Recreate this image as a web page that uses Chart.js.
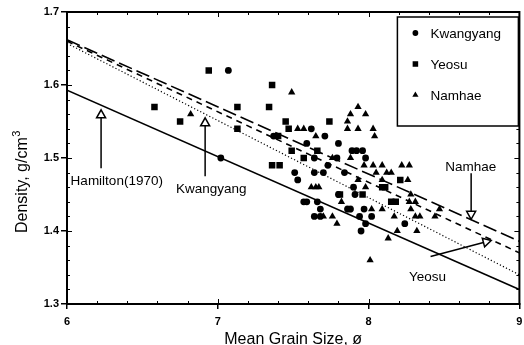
<!DOCTYPE html>
<html>
<head>
<meta charset="utf-8">
<script src="https://cdn.jsdelivr.net/npm/chart.js@4.4.0/dist/chart.umd.min.js"></script>
<style>
  html, body { margin: 0; padding: 0; background: #fff; }
</style>
</head>
<body>
<canvas id="grainChart" width="524" height="345"></canvas>
<script>
// sample points
var kwangyangX = [7.07, 7.02, 7.37, 7.51, 7.53, 7.59, 7.62, 7.64, 7.64, 7.57, 7.59, 7.64, 7.68, 7.68, 7.66, 7.71, 7.70, 7.73, 7.80, 7.79, 7.84, 7.80, 7.86, 7.88, 7.90, 7.89, 7.92, 7.96, 7.98, 7.91, 7.94, 7.95, 7.97, 7.98, 8.02, 8.24]
var kwangyangY = [1.62, 1.50, 1.53, 1.48, 1.47, 1.52, 1.54, 1.50, 1.48, 1.44, 1.44, 1.42, 1.42, 1.43, 1.44, 1.53, 1.48, 1.49, 1.52, 1.50, 1.48, 1.45, 1.43, 1.43, 1.46, 1.51, 1.51, 1.51, 1.50, 1.45, 1.42, 1.40, 1.43, 1.41, 1.42, 1.41]

var yeosuX = [6.58, 6.75, 6.94, 7.13, 7.13, 7.36, 7.34, 7.36, 7.41, 7.40, 7.45, 7.47, 7.49, 7.57, 7.74, 7.66, 7.81, 7.96, 8.09, 8.11, 8.15, 8.18, 8.21, 7.87]
var yeosuY = [1.57, 1.55, 1.62, 1.57, 1.54, 1.60, 1.57, 1.49, 1.49, 1.53, 1.55, 1.54, 1.51, 1.50, 1.55, 1.51, 1.45, 1.45, 1.46, 1.46, 1.44, 1.44, 1.47, 1.43]

var namhaeX = [6.82, 7.49, 7.53, 7.57, 7.65, 7.62, 7.65, 7.67, 7.86, 7.88, 7.93, 7.98, 7.86, 7.93, 8.03, 8.04, 7.88, 7.97, 8.03, 8.09, 8.05, 7.93, 7.98, 8.12, 8.15, 8.09, 8.22, 8.27, 8.26, 8.28, 7.82, 7.76, 7.79, 7.70, 7.76, 8.02, 8.09, 8.13, 8.19, 8.17, 8.27, 8.31, 8.28, 8.31, 8.34, 8.32, 8.44, 8.47, 8.01]
var namhaeY = [1.56, 1.59, 1.54, 1.54, 1.53, 1.46, 1.46, 1.46, 1.55, 1.56, 1.57, 1.56, 1.54, 1.54, 1.54, 1.53, 1.50, 1.49, 1.49, 1.49, 1.48, 1.47, 1.46, 1.48, 1.48, 1.47, 1.49, 1.49, 1.47, 1.45, 1.44, 1.50, 1.41, 1.42, 1.42, 1.43, 1.43, 1.39, 1.40, 1.42, 1.44, 1.44, 1.43, 1.42, 1.42, 1.40, 1.42, 1.43, 1.36]

// regression lines, end points at x = 6 and x = 9
var fitX = [6, 9]
var hamiltonY = [1.593, 1.320]
var kwangyangFitY = [1.657, 1.340]
var yeosuFitY = [1.660, 1.370]
var namhaeFitY = [1.662, 1.386]

var xTicks = [6, 7, 8, 9]
var yTicks = [1.3, 1.4, 1.5, 1.6, 1.7]

// arrow labels (data coordinates)
var notes = [
  { text: 'Hamilton(1970)', tx: 6.33, ty: 1.468, tail: [6.226, 1.486], tip: [6.226, 1.566] },
  { text: 'Kwangyang', tx: 6.956, ty: 1.457, tail: [6.916, 1.475], tip: [6.916, 1.555] },
  { text: 'Namhae', tx: 8.677, ty: 1.487, tail: [8.68, 1.479], tip: [8.68, 1.416] },
  { text: 'Yeosu', tx: 8.39, ty: 1.337, tail: [8.411, 1.365], tip: [8.813, 1.387] }
]

var FONT = "'Liberation Sans', Arial, Helvetica, sans-serif"
Chart.defaults.font.family = FONT
Chart.defaults.color = '#000'

function pts(xs, ys) {
  return xs.map(function (x, i) { return { x: x, y: ys[i] } })
}

function fitLine(label, ys, dash, width) {
  return {
    label: label,
    data: pts(fitX, ys),
    showLine: true,
    borderColor: '#000',
    borderWidth: width,
    borderDash: dash,
    pointRadius: 0,
    order: 2
  }
}

var seriesInfo = [
  { label: 'Kwangyang', style: 'circle', radius: 3.4 },
  { label: 'Yeosu', style: 'rect', radius: 4.6 },
  { label: 'Namhae', style: 'triangle', radius: 4.2 }
]

//-------------
//- PLUGINS -
//-------------
var framePlugin = {
  id: 'frame',
  afterDatasetsDraw: function (chart) {
    var ctx = chart.ctx
    var a = chart.chartArea
    var xs = chart.scales.x
    var ys = chart.scales.y
    ctx.save()
    ctx.strokeStyle = '#000'
    ctx.lineWidth = 2
    ctx.strokeRect(a.left, a.top, a.right - a.left, a.bottom - a.top)

    ctx.lineWidth = 1
    ctx.beginPath()
    for (var i = 0; i <= 15; i++) {
      var p = Math.round(xs.getPixelForValue(6 + i * 0.2)) + 0.5
      var len = (i % 5 === 0) ? 5 : 3
      ctx.moveTo(p, a.bottom); ctx.lineTo(p, a.bottom - len)
      ctx.moveTo(p, a.top); ctx.lineTo(p, a.top + len)
    }
    for (var j = 0; j <= 20; j++) {
      var q = Math.round(ys.getPixelForValue(1.3 + j * 0.02)) + 0.5
      var l2 = (j % 5 === 0) ? 5 : 3
      ctx.moveTo(a.left, q); ctx.lineTo(a.left + l2, q)
      ctx.moveTo(a.right, q); ctx.lineTo(a.right - l2, q)
    }
    ctx.stroke()
    ctx.restore()
  },
  afterDraw: function (chart) {
    var ctx = chart.ctx
    var a = chart.chartArea
    var xs = chart.scales.x
    var ys = chart.scales.y
    ctx.save()
    ctx.fillStyle = '#000'
    ctx.strokeStyle = '#000'

    // arrows + labels
    notes.forEach(function (n) {
      var x0 = xs.getPixelForValue(n.tail[0]), y0 = ys.getPixelForValue(n.tail[1])
      var x1 = xs.getPixelForValue(n.tip[0]), y1 = ys.getPixelForValue(n.tip[1])
      var dx = x1 - x0, dy = y1 - y0
      var len = Math.sqrt(dx * dx + dy * dy)
      var ux = dx / len, uy = dy / len
      var hl = 8, hw = 4.5
      var bx = x1 - ux * hl, by = y1 - uy * hl
      ctx.lineWidth = 1.5
      ctx.beginPath()
      ctx.moveTo(x0, y0)
      ctx.lineTo(bx, by)
      ctx.stroke()
      ctx.beginPath()
      ctx.moveTo(x1, y1)
      ctx.lineTo(bx - uy * hw, by + ux * hw)
      ctx.lineTo(bx + uy * hw, by - ux * hw)
      ctx.closePath()
      ctx.fillStyle = '#fff'
      ctx.fill()
      ctx.stroke()
      ctx.fillStyle = '#000'
      ctx.font = '13.5px ' + FONT
      ctx.textAlign = 'center'
      ctx.textBaseline = 'middle'
      ctx.fillText(n.text, xs.getPixelForValue(n.tx), ys.getPixelForValue(n.ty))
    })

    // legend box
    var lx = a.right - 122, ly = a.top + 5, lw = 121, lh = 109
    ctx.fillStyle = '#fff'
    ctx.fillRect(lx, ly, lw, lh)
    ctx.lineWidth = 1.5
    ctx.strokeRect(lx, ly, lw, lh)
    ctx.fillStyle = '#000'
    ctx.font = '13.5px ' + FONT
    ctx.textAlign = 'left'
    ctx.textBaseline = 'middle'
    seriesInfo.forEach(function (s, i) {
      var yy = ly + 16 + i * 31
      Chart.helpers.drawPoint(ctx, { pointStyle: s.style, radius: s.radius * 0.85, rotation: 0, borderWidth: 0 }, lx + 18, yy)
      ctx.fillText(s.label, lx + 33, yy + 1)
    })

    // axis titles
    ctx.font = '16px ' + FONT
    ctx.textAlign = 'center'
    ctx.textBaseline = 'alphabetic'
    ctx.fillText('Mean Grain Size, \u00f8', (a.left + a.right) / 2, 344)

    ctx.translate(27, 233)
    ctx.rotate(-Math.PI / 2)
    ctx.textAlign = 'left'
    ctx.fillText('Density, g/cm', 0, 0)
    var w = ctx.measureText('Density, g/cm').width
    ctx.font = '11px ' + FONT
    ctx.fillText('3', w + 0.5, -7)
    ctx.restore()
  }
}

var datasets = [
  fitLine('Hamilton(1970)', hamiltonY, [], 1.6),
  fitLine('Kwangyang fit', kwangyangFitY, [1.2, 2.2], 1.2),
  fitLine('Yeosu fit', yeosuFitY, [6, 5], 1.6),
  fitLine('Namhae fit', namhaeFitY, [14, 5], 1.6)
]
var pointSets = [pts(kwangyangX, kwangyangY), pts(yeosuX, yeosuY), pts(namhaeX, namhaeY)]
seriesInfo.forEach(function (s, i) {
  datasets.push({
    label: s.label,
    data: pointSets[i],
    pointStyle: s.style,
    pointRadius: s.radius,
    pointBorderWidth: 0,
    backgroundColor: '#000',
    borderColor: '#000',
    order: 1
  })
})

var grainChart = new Chart(document.getElementById('grainChart'), {
  type: 'scatter',
  data: { datasets: datasets },
  options: {
    responsive: false,
    animation: false,
    events: [],
    layout: { padding: { left: 0, right: 2, top: 12, bottom: 0 } },
    plugins: {
      legend: { display: false },
      tooltip: { enabled: false }
    },
    scales: {
      x: {
        type: 'linear',
        min: 6,
        max: 9,
        afterBuildTicks: function (s) { s.ticks = xTicks.map(function (v) { return { value: v } }) },
        afterFit: function (s) { s.height = 41; s.paddingLeft = 0; s.paddingRight = 0 },
        ticks: { font: { size: 11, weight: 'bold' }, padding: 6, maxRotation: 0, callback: function (v) { return String(v) } },
        grid: { drawOnChartArea: false, tickLength: 5, color: '#000', lineWidth: 1.5 },
        border: { display: true, color: '#000', width: 2 }
      },
      y: {
        type: 'linear',
        min: 1.3,
        max: 1.7,
        afterBuildTicks: function (s) { s.ticks = yTicks.map(function (v) { return { value: v } }) },
        afterFit: function (s) { s.width = 67; s.paddingTop = 0; s.paddingBottom = 0 },
        ticks: { font: { size: 11, weight: 'bold' }, padding: 2, callback: function (v) { return v.toFixed(1) } },
        grid: { drawOnChartArea: false, tickLength: 6, color: '#000', lineWidth: 1.5 },
        border: { display: true, color: '#000', width: 2 }
      }
    }
  },
  plugins: [framePlugin]
})
</script>
</body>
</html>
